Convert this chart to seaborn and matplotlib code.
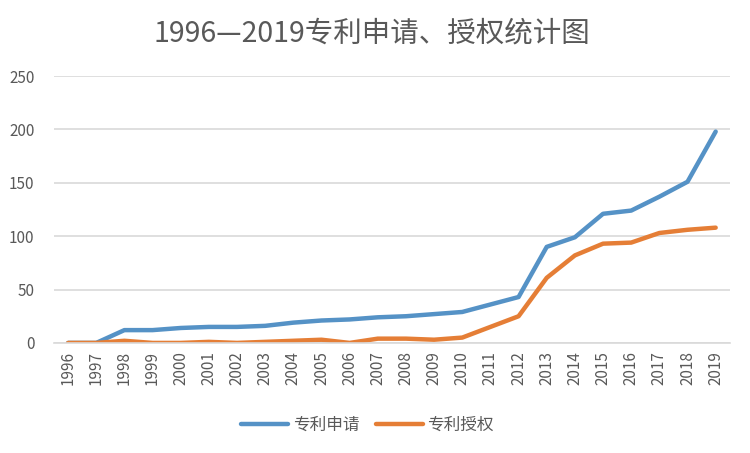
import matplotlib
matplotlib.use("Agg")
import matplotlib.pyplot as plt
import seaborn as sns
import pandas as pd
from matplotlib.lines import Line2D

years = list(range(1996, 2020))
apply_vals = [0, 0, 12, 12, 14, 15, 15, 16, 19, 21, 22, 24, 25, 27, 29, 36, 43, 90, 99, 121, 124, 137, 151, 198]
grant_vals = [0, 0, 2, 0, 0, 1, 0, 1, 2, 3, 0, 4, 4, 3, 5, 15, 25, 61, 82, 93, 94, 103, 106, 108]
series_names = ["专利申请", "专利授权"]
title = "1996—2019专利申请、授权统计图"

df = pd.DataFrame({
    "year": years * 2,
    "value": apply_vals + grant_vals,
    "series": [series_names[0]] * len(years) + [series_names[1]] * len(years),
})

sns.set_theme(style="white")
plt.rcParams['font.family'] = ['Noto Sans CJK SC', 'DejaVu Sans']

fig = plt.figure(figsize=(7.5, 4.53), dpi=100)
ax = fig.add_axes([0.072, 0.243, 0.901, 0.589])

palette = {series_names[0]: "#5592C6", series_names[1]: "#E57E36"}
sns.lineplot(data=df, x="year", y="value", hue="series", palette=palette,
             linewidth=3.2, ax=ax, legend=False)

ax.set_xlim(1995.5, 2019.5)
ax.set_ylim(0, 250)
ax.set_yticks([0, 50, 100, 150, 200, 250])
ax.set_xticks(years)
ax.set_xticklabels([str(y) for y in years], rotation=90, fontsize=11, color="#595959")
ax.tick_params(axis="y", labelsize=11, colors="#595959", length=0, pad=14)
ax.tick_params(axis="x", length=0, pad=6)
ax.set_xlabel("")
ax.set_ylabel("")
ax.grid(axis="y", color="#D9D9D9", linewidth=1.2)
ax.set_axisbelow(True)
for s in ["top", "right", "left"]:
    ax.spines[s].set_visible(False)
ax.spines["bottom"].set_color("#D9D9D9")
ax.spines["bottom"].set_linewidth(1.2)

fig.text(0.496, 0.925, title, ha="center", va="center", fontsize=20.5, color="#595959")

handles = [Line2D([0], [0], color=palette[n], linewidth=3.2) for n in series_names]
leg = fig.legend(handles, series_names, loc="center", bbox_to_anchor=(0.49, 0.062), ncol=2,
                 frameon=False, fontsize=12, handlelength=2.8, columnspacing=1.0, handletextpad=0.3)
for t in leg.get_texts():
    t.set_color("#595959")

fig.savefig("out.png", dpi=100, facecolor="white")
